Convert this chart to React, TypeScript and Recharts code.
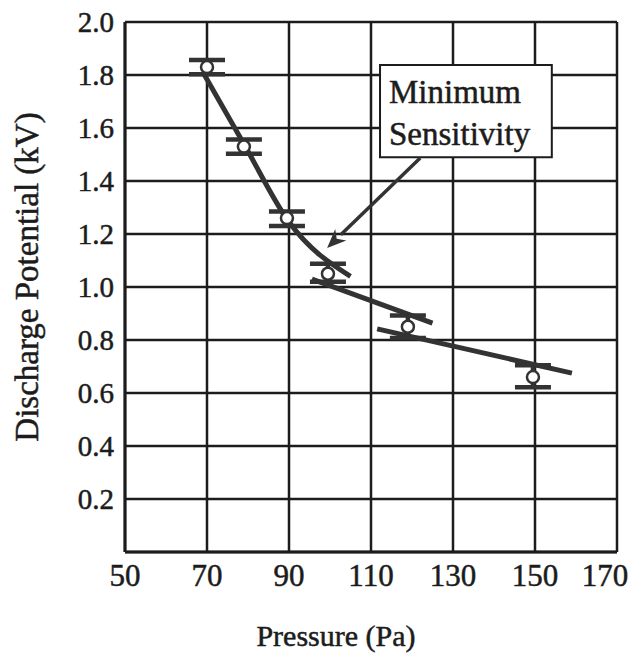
import {
  ComposedChart,
  XAxis,
  YAxis,
  CartesianGrid,
  Line,
  Scatter,
  ErrorBar,
  ReferenceArea,
  ReferenceLine,
} from "recharts";

// measured points (Pa, kV) with error caps
const pressure = [70, 79, 89.5, 99.5, 119, 149.5];
const potential = [1.83, 1.53, 1.26, 1.05, 0.85, 0.66];
const errorLow = [0.027, 0.027, 0.03, 0.03, 0.042, 0.038];
const errorHigh = [0.027, 0.027, 0.025, 0.038, 0.042, 0.045];

// hand-drawn trend lines
const fitHighX = [69, 79, 90, 105];
const fitHighY = [1.81, 1.54, 1.245, 1.04];
const fitMidX = [95.6, 125];
const fitMidY = [1.03, 0.864];
const fitLowX = [111.5, 159];
const fitLowY = [0.842, 0.675];

const xTicks = [50, 70, 90, 110, 130, 150, 170];
const yTicks = [0.2, 0.4, 0.6, 0.8, 1.0, 1.2, 1.4, 1.6, 1.8, 2.0];

const noteLines = ["Minimum", "Sensitivity"];

const FONT = "Liberation Serif, Times New Roman, serif";
const INK = "#1c1c1c";
const PEN = "#333";
// scanned text looks a bit heavy
const txt = { fontFamily: FONT, stroke: INK, strokeWidth: 0.5 };

const points = pressure.map((x, i) => ({
  x,
  y: potential[i],
  err: [errorLow[i], errorHigh[i]],
}));
const toLine = (xs: number[], ys: number[]) => xs.map((x, i) => ({ x, y: ys[i] }));

const OpenCircle = (props: any) => (
  <circle cx={props.cx} cy={props.cy} r={6} fill="#fff" stroke={PEN} strokeWidth={2.5} />
);

const XTick = (props: any) => {
  const { x, y, payload } = props;
  const shift = payload.value === 170 ? -12 : 0;
  return (
    <text x={x + shift} y={y} dy="0.71em" textAnchor="middle" style={txt} fontSize={31} fill={INK}>
      {payload.value}
    </text>
  );
};

const YTick = (props: any) => {
  const { x, y, payload } = props;
  return (
    <text x={x} y={y} dy="0.36em" textAnchor="end" style={txt} fontSize={29} fill={INK}>
      {payload.value.toFixed(1)}
    </text>
  );
};

const Arrow = (props: any) => {
  const { x1, y1, x2, y2 } = props;
  const a = Math.atan2(y2 - y1, x2 - x1);
  const len = 19;
  const w = 8;
  const bx = x2 - len * Math.cos(a);
  const by = y2 - len * Math.sin(a);
  const px = -Math.sin(a) * w;
  const py = Math.cos(a) * w;
  return (
    <g>
      <line x1={x1} y1={y1} x2={bx} y2={by} stroke={PEN} strokeWidth={3.5} />
      <polygon
        points={`${x2},${y2} ${bx + px},${by + py} ${bx + 0.3 * (x2 - bx)},${by + 0.3 * (y2 - by)} ${bx - px},${by - py}`}
        fill={PEN}
      />
    </g>
  );
};

const NoteLabel = (props: any) => {
  const { x, y } = props.viewBox;
  return (
    <text style={txt} fontSize={33} fill={INK}>
      <tspan x={x + 9} y={y + 38}>{noteLines[0]}</tspan>
      <tspan x={x + 9} y={y + 80}>{noteLines[1]}</tspan>
    </text>
  );
};

export default function App() {
  return (
    <div style={{ position: "absolute", left: 0, top: 0, background: "#fff" }}>
      <ComposedChart width={632} height={656} margin={{ top: 22, right: 15, left: 0, bottom: 0 }}>
        <CartesianGrid stroke={INK} strokeWidth={2.5} />
        <XAxis
          type="number"
          dataKey="x"
          domain={[50, 170]}
          ticks={xTicks}
          height={104}
          tickSize={0}
          tickMargin={12}
          tickLine={false}
          axisLine={{ stroke: INK, strokeWidth: 3 }}
          tick={<XTick />}
          label={{
            content: () => (
              <text x={336} y={646} textAnchor="middle" style={txt} fontSize={30} fill={INK}>
                Pressure (Pa)
              </text>
            ),
          }}
        />
        <YAxis
          type="number"
          domain={[0, 2]}
          ticks={yTicks}
          width={125}
          tickSize={0}
          tickMargin={11}
          tickLine={false}
          axisLine={{ stroke: INK, strokeWidth: 3 }}
          tick={<YTick />}
          label={{
            content: () => (
              <text
                transform="translate(38,277) rotate(-90)"
                textAnchor="middle"
                style={txt}
                fontSize={33}
                fill={INK}
              >
                Discharge Potential (kV)
              </text>
            ),
          }}
        />
        <Line data={toLine(fitHighX, fitHighY)} dataKey="y" type="monotone" stroke={PEN} strokeWidth={5} dot={false} isAnimationActive={false} />
        <Line data={toLine(fitMidX, fitMidY)} dataKey="y" type="linear" stroke={PEN} strokeWidth={5} dot={false} isAnimationActive={false} />
        <Line data={toLine(fitLowX, fitLowY)} dataKey="y" type="linear" stroke={PEN} strokeWidth={5} dot={false} isAnimationActive={false} />
        <Scatter data={points} dataKey="y" shape={<OpenCircle />} isAnimationActive={false}>
          <ErrorBar dataKey="err" direction="y" width={18} strokeWidth={4.5} stroke={PEN} />
        </Scatter>
        <ReferenceArea
          x1={112.2}
          x2={154.1}
          y1={1.49}
          y2={1.838}
          fill="#fff"
          fillOpacity={1}
          stroke={INK}
          strokeWidth={2}
          ifOverflow="visible"
          label={<NoteLabel />}
        />
        <ReferenceLine
          segment={[
            { x: 122, y: 1.487 },
            { x: 99.3, y: 1.147 },
          ]}
          ifOverflow="visible"
          shape={<Arrow />}
        />
      </ComposedChart>
    </div>
  );
}
